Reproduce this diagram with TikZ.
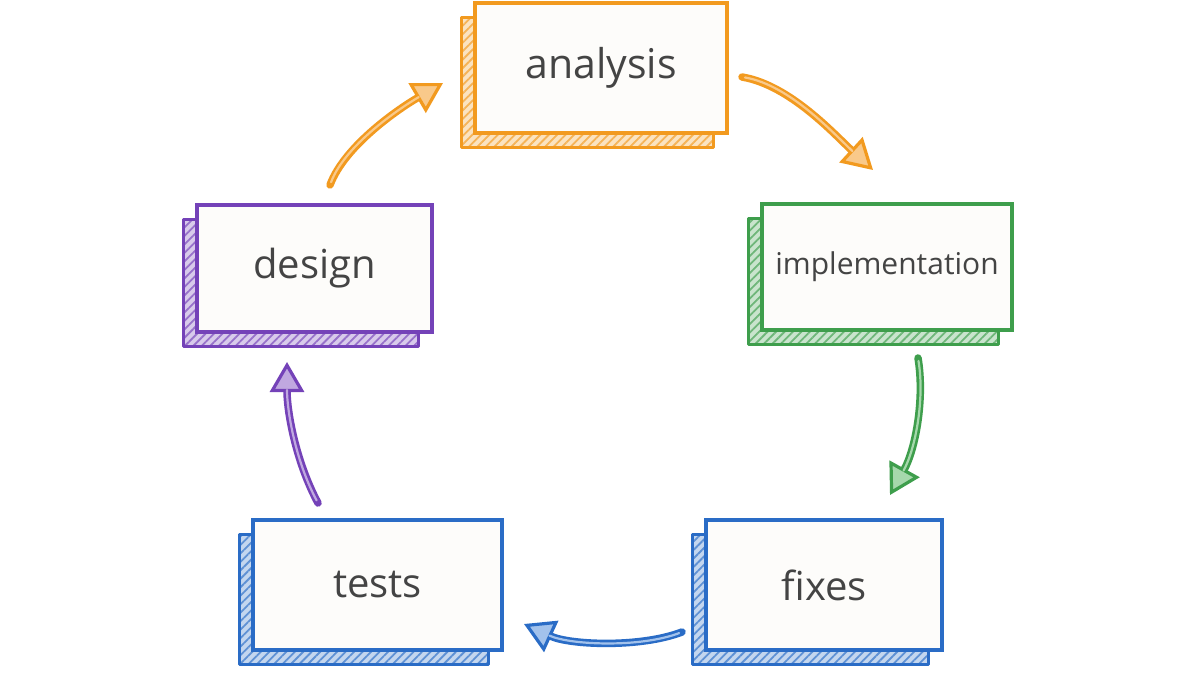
\documentclass[tikz,border=0pt]{standalone}
\usepackage{fontspec}
\setmainfont{Open Sans}
\usetikzlibrary{arrows.meta,patterns.meta}
\definecolor{corange}{HTML}{F29A1F}
\definecolor{lorange}{HTML}{F9C98A}
\definecolor{cgreen}{HTML}{3E9E4C}
\definecolor{lgreen}{HTML}{A6D8AC}
\definecolor{cpurple}{HTML}{7442B8}
\definecolor{lpurple}{HTML}{C0A8E0}
\definecolor{cblue}{HTML}{2A6CC6}
\definecolor{lblue}{HTML}{A2C2EC}
\definecolor{ctext}{HTML}{444444}
\definecolor{cpaper}{HTML}{FDFCFA}
\tikzset{
  card/.style={draw=#1, line width=3.4pt, fill=cpaper, text=ctext, inner sep=0pt,
    font=\fontsize{40}{46}\selectfont},
  shadowcard/.style={draw=#1, line width=3pt, line join=round,
    pattern={Lines[angle=45,distance=6pt,line width=1.8pt]}, pattern color=#1!75},
  flow/.style={line width=7.5pt, draw=#1, line cap=round},
  flowin/.style={line width=2.2pt, draw=#1, line cap=round, shorten >=28pt, shorten <=3pt},
}
\newcommand{\flowarrow}[5]{%
  \draw[flow=#1, -{Triangle[length=30pt,width=34pt,line width=3.2pt,fill=#2]}] (#3) .. controls #4 .. (#5);
  \draw[flowin=#2] (#3) .. controls #4 .. (#5);
}
\newcommand{\cardat}[6]{%
  % #1 name, #2 color, #3 x, #4 y, #5 w, #6 h
  \fill[#2!28] (#3-#5/2-14,#4-#6/2+14) rectangle (#3+#5/2-14,#4+#6/2+14);
  \draw[shadowcard=#2] (#3-#5/2-14,#4-#6/2+14) rectangle (#3+#5/2-14,#4+#6/2+14);
}
\begin{document}
\begin{tikzpicture}[x=1pt,y=-1pt]
\useasboundingbox[fill=white] (0,0) rectangle (1200,675);
% shadows
\cardat{an}{corange}{601}{68}{252}{130}
\cardat{im}{cgreen}{887}{267}{250}{126}
\cardat{de}{cpurple}{314.5}{268.5}{235}{127}
\cardat{te}{cblue}{377.5}{585}{249}{130}
\cardat{fi}{cblue}{824}{585}{236}{130}
% cards
\node[card=corange, minimum width=252pt, minimum height=130pt, font=\fontsize{41}{47}\selectfont] (an) at (601,68) {analysis};
\node[card=cgreen, minimum width=250pt, minimum height=126pt, font=\fontsize{30}{35}\selectfont] (im) at (887,267) {implementation};
\node[card=cpurple, minimum width=235pt, minimum height=127pt] (de) at (314.5,268.5) {design};
\node[card=cblue, minimum width=249pt, minimum height=130pt] (te) at (377.5,585) {tests};
\node[card=cblue, minimum width=236pt, minimum height=130pt] (fi) at (824,585) {fixes};
% arrow end points
\coordinate (deS) at (330,185);
\coordinate (anE) at (443,83);
\coordinate (anS) at (742,77);
\coordinate (imE) at (873,170);
\coordinate (imS) at (918,358);
\coordinate (fiE) at (890,495);
\coordinate (fiS) at (682,632);
\coordinate (teE) at (524,624);
\coordinate (teS) at (318,503);
\coordinate (deE) at (287,362);
% arrows
\flowarrow{corange}{lorange}{deS}{(345,145) and (400,108)}{anE}
\flowarrow{corange}{lorange}{anS}{(790,85) and (835,135)}{imE}
\flowarrow{cgreen}{lgreen}{imS}{(925,400) and (915,450)}{fiE}
\flowarrow{cblue}{lblue}{fiS}{(640,648) and (570,645)}{teE}
\flowarrow{cpurple}{lpurple}{teS}{(295,460) and (287,410)}{deE}
\end{tikzpicture}
\end{document}
